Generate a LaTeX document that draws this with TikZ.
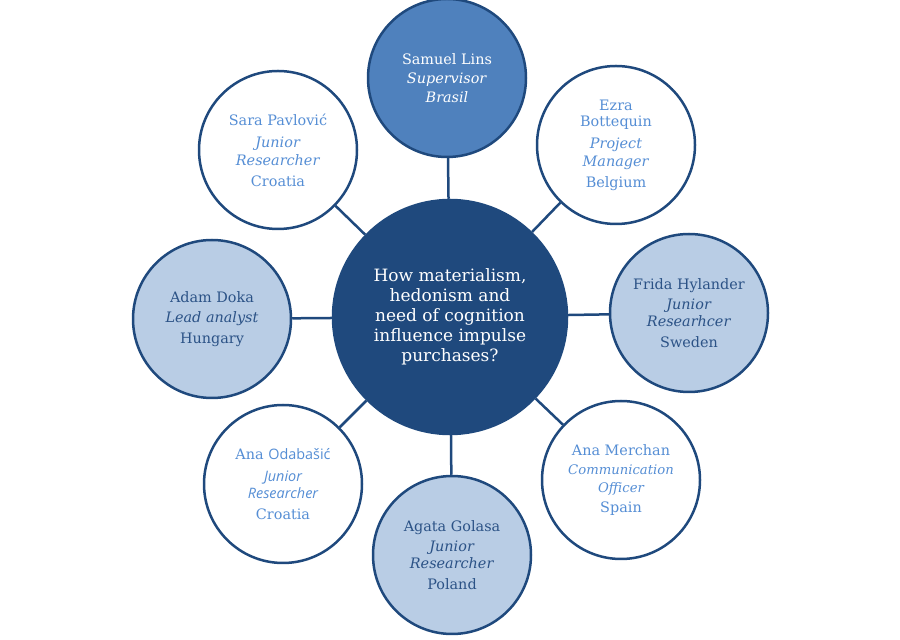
\documentclass[tikz,border=0pt]{standalone}
\usepackage{fontspec}
\setmainfont{DejaVu Serif}
\newfontfamily\plainsans{Open Sans}
\definecolor{navy}{HTML}{1F497D}
\definecolor{midblue}{HTML}{4F81BD}
\definecolor{paleblue}{HTML}{B9CDE5}
\definecolor{softtext}{HTML}{558ED5}
\definecolor{deeptext}{HTML}{2B5286}
\begin{document}
\begin{tikzpicture}[x=0.5pt,y=-0.5pt,
  person/.style={circle,draw=navy,line width=1.25pt,minimum size=79pt,
    inner sep=0pt,align=center,font=\fontsize{7.2}{8.6}\selectfont},
  whiteperson/.style={person,fill=white,text=softtext},
  paleperson/.style={person,fill=paleblue,text=deeptext},
  hub/.style={circle,draw=navy,fill=navy,line width=1.25pt,minimum size=117pt,
    inner sep=0pt,align=center,text=white,font=\fontsize{8.5}{10}\selectfont},
  link/.style={draw=navy,line width=1.25pt}]
  \useasboundingbox (0,0) rectangle (900,640);

  \node[hub] (question) at (450,317)
    {How materialism,\\hedonism and\\need of cognition\\influence impulse\\purchases?};

  \node[person,fill=midblue,text=white] (lins) at (447,78)
    {Samuel Lins\\[1pt]\textit{Supervisor}\\[1pt]\textit{Brasil}};
  \node[whiteperson] (pavlovic) at (278,150)
    {Sara Pavlović\\[2.4pt]\textit{Junior}\\[0.3pt]\textit{Researcher}\\[1.9pt]Croatia};
  \node[whiteperson] (bottequin) at (616,145)
    {Ezra\\[-0.5pt]Bottequin\\[2.4pt]\textit{Project}\\[0.3pt]\textit{Manager}\\[1.9pt]Belgium};
  \node[paleperson] (hylander) at (689,313)
    {Frida Hylander\\[1.5pt]\textit{Junior}\\[-0.5pt]\textit{Researhcer}\\[1.9pt]Sweden};
  \node[paleperson] (doka) at (212,319)
    {Adam Doka\\[1.5pt]\textit{Lead analyst}\\[1.5pt]Hungary};
  \node[whiteperson] (odabasic) at (283,484)
    {Ana {\plainsans Odabašić}\\[2.4pt]{\plainsans\itshape Junior}\\[0.3pt]{\plainsans\itshape Researcher}\\[1.9pt]Croatia};
  \node[whiteperson] (merchan) at (621,480)
    {Ana Merchan\\[1pt]{\fontsize{6.6}{6.8}\selectfont\itshape Communication}\\{\fontsize{6.6}{6.8}\selectfont\itshape Officer}\\[1.5pt]Spain};
  \node[paleperson] (golasa) at (452,555)
    {Agata Golasa\\[1.5pt]\textit{Junior}\\[-0.5pt]\textit{Researcher}\\[1.9pt]Poland};

  \foreach \who in {lins,pavlovic,bottequin,hylander,doka,odabasic,merchan,golasa}
    \draw[link] (question) -- (\who);
\end{tikzpicture}
\end{document}
